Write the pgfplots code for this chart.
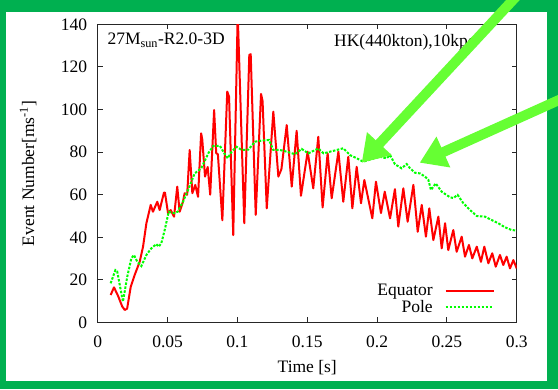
\documentclass[border=0pt]{standalone}
\usepackage{pgfplots}
\pgfplotsset{compat=1.18}
\usepackage{fontspec}
\setmainfont{Liberation Serif}
\usetikzlibrary{arrows.meta}
\definecolor{framegreen}{RGB}{0,176,80}
\definecolor{arrowgreen}{RGB}{102,255,51}
\definecolor{polegreen}{RGB}{0,255,0}
\begin{document}
\begin{tikzpicture}[x=1pt,y=1pt]
\clip (0,0) rectangle (558,389);
\fill[framegreen] (0,0) rectangle (558,389);
\fill[white] (6,8) rectangle (547,377);
\begin{axis}[
  at={(97.8pt,66.5pt)}, anchor=south west,
  scale only axis, width=418.9pt, height=298.2pt,
  xmin=0, xmax=0.3, ymin=0, ymax=140,
  xtick={0,0.05,0.1,0.15,0.2,0.25,0.3},
  xticklabels={0,0.05,0.1,0.15,0.2,0.25,0.3},
  ytick={0,20,40,60,80,100,120,140},
  tick align=inside, major tick length=5pt,
  axis line style={black!85, line width=0.9pt},
  every tick/.style={black!85, line width=0.9pt},
  /pgf/number format/assume math mode=true,
  tick label style={font=\fontsize{17.5}{20}\selectfont, inner sep=0pt},
  xticklabel style={anchor=north, yshift=-13.5pt},
  yticklabel style={anchor=east, xshift=-10.5pt},
  xlabel={Time [s]},
  ylabel={Event Number[ms\textsuperscript{-1}]},
  label style={font=\fontsize{17.5}{20}\selectfont},
  xlabel style={at={(axis description cs:0.5,-0.1693)}, anchor=base, inner sep=0pt},
  ylabel style={at={(axis description cs:-0.1666,0.5)}, anchor=center, rotate=0, inner sep=0pt},
  legend style={draw=none, fill=none, at={(axis description cs:0.948,0.022)}, anchor=south east,
    inner sep=0pt, font=\fontsize{17.5}{18}\selectfont, row sep=-1pt,
    /tikz/every odd column/.append style={column sep=10pt}},
  legend cell align=right,
  legend plot pos=right,
  legend image code/.code={\draw[#1] (0pt,0pt) -- (48pt,0pt);},
]
\addplot[red, line width=2pt, line join=round] coordinates {
(0.0092,12.9) (0.0116,16.5) (0.0145,12.5) (0.0175,7.5) (0.0193,5.9) (0.021,6.5)
(0.0236,16.8) (0.0264,22.3) (0.030,28.5) (0.0324,35.6) (0.0348,46.6) (0.0379,55.2)
(0.0395,52) (0.0426,56.7) (0.0443,52.8) (0.0474,61) (0.0481,61) (0.0503,51.3)
(0.0522,52.8) (0.0546,49.7) (0.0569,63.8) (0.0586,52) (0.061,56.7) (0.0622,60.7)
(0.064,60) (0.0658,81) (0.0677,60.7) (0.0698,64.6) (0.0718,59) (0.074,88.8)
(0.0748,86) (0.0768,68.5) (0.0787,73) (0.0805,60) (0.0833,99.8) (0.0848,79.5)
(0.0860,79) (0.0892,48) (0.0927,108.4) (0.0940,106) (0.097,41) (0.1002,145)
(0.1049,46.6) (0.1085,125.6) (0.1095,126) (0.1131,50.5) (0.1169,107.3) (0.1180,104)
(0.121,53.6) (0.1257,99) (0.1293,68.5) (0.1315,72) (0.1353,92.7) (0.1389,63.8)
(0.1424,90) (0.1455,59.5) (0.1503,80.2) (0.1543,63) (0.1579,87.2) (0.161,54)
(0.1646,79.4) (0.1675,58.3) (0.1723,80.2) (0.1758,56.7) (0.1794,77.8) (0.1823,53.6)
(0.1854,73.1) (0.1885,56) (0.1909,66.9) (0.1966,48.9) (0.1992,66.1) (0.2028,51.4)
(0.2055,61.4) (0.2093,48.9) (0.2128,62.6) (0.2152,45) (0.2188,63) (0.2219,47.3)
(0.226,64.6) (0.2291,42.6) (0.232,55.2) (0.235,40.3) (0.2374,53.6) (0.2403,38.7)
(0.2439,49.7) (0.2463,34.8) (0.2487,46.6) (0.251,34) (0.2546,43.4) (0.257,33.2)
(0.2606,40.3) (0.263,30.9) (0.2658,36.4) (0.2682,30.1) (0.2714,35.6) (0.2744,28.5)
(0.2768,35.6) (0.2797,27.8) (0.2825,32.5) (0.285,26.2) (0.288,31.7) (0.2904,27)
(0.2928,30.9) (0.2952,25.4) (0.2976,29.3) (0.300,25.4)
};
\addlegendentry{Equator}
\addplot[polegreen, line width=2pt, dash pattern=on 2.5pt off 1.5pt] coordinates {
(0.0092,18.4) (0.0126,24.6) (0.0139,24) (0.018,9.8) (0.0211,21.5) (0.024,30.1)
(0.0259,31.7) (0.0283,28.5) (0.0312,26.5) (0.0348,31.7) (0.0383,34.8) (0.0419,36.8)
(0.0436,35.6) (0.0455,37.2) (0.0479,43.4) (0.0508,52) (0.0546,51.3) (0.0572,52)
(0.061,56.7) (0.0646,62.2) (0.0694,70) (0.0741,72.4) (0.0791,79.4) (0.0827,82.9)
(0.0875,82.9) (0.0906,79.4) (0.093,77.1) (0.0959,80.2) (0.0994,82.5) (0.1031,81)
(0.1079,81.2) (0.1126,84.9) (0.1174,85.4) (0.1226,85.7) (0.1257,81) (0.1305,81)
(0.1353,80.2) (0.1412,79) (0.146,81.5) (0.1508,79.4) (0.1556,81) (0.1579,81.7)
(0.1617,79.4) (0.1663,80.2) (0.1711,81) (0.1758,81.8) (0.1806,78.6) (0.1854,77.1)
(0.1901,75.5) (0.1950,76.5) (0.2021,77.8) (0.2069,77.1) (0.2093,78.6) (0.2128,74.3)
(0.2176,72.4) (0.2212,74.4) (0.2236,72.4) (0.2272,70.3) (0.2307,70) (0.2343,68.5)
(0.2367,67) (0.2386,62.2) (0.242,65.3) (0.2463,61.4) (0.2522,58.8) (0.2546,58.4)
(0.2577,59.9) (0.2618,56) (0.2666,52.8) (0.2714,50) (0.2773,49.7) (0.2821,48.1)
(0.2868,46.6) (0.2916,44.7) (0.2964,43.4) (0.300,43.2)
};
\addlegendentry{Pole}
\end{axis}
\node[anchor=base west, inner sep=0pt, font=\fontsize{17.5}{20}\selectfont] at (107.3,344) {27M\textsubscript{sun}-R2.0-3D};
\node[anchor=base west, inner sep=0pt, font=\fontsize{17.5}{20}\selectfont] at (334,342.3) {HK(440kton),10kpc};
\draw[arrowgreen, line width=10pt, -{Triangle[length=26pt,width=32pt]}] (525,402) -- (361.7,226.3);
\draw[arrowgreen, line width=10pt, -{Triangle[length=26pt,width=32pt]}] (599,307) -- (419.7,226.3);
\end{tikzpicture}
\end{document}
